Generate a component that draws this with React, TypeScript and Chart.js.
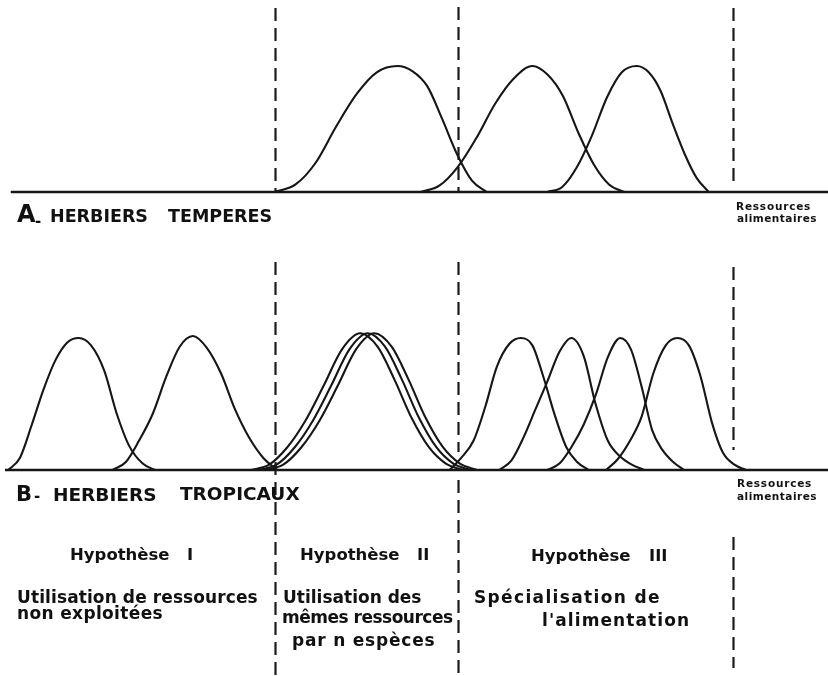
import React, { useEffect, useRef } from "react";
import { Chart, registerables } from "chart.js";

Chart.register(...registerables);

// ---- Data (resource axis 0–100, relative abundance: peak ≈ 1) ----
const resourceBoundaries = [33.2, 55.3, 88.5];

// Panel A – herbiers tempérés
const a1X = [33.2, 35.7, 38.1, 40.6, 43.1, 45.5, 48.0, 49.8, 51.6, 53.4, 55.2, 57.0, 58.8];
const a1Y = [0, 0.06, 0.23, 0.52, 0.78, 0.95, 1.0, 0.96, 0.84, 0.58, 0.3, 0.09, 0];
const a2X = [50.8, 53.05, 55.3, 57.55, 59.8, 62.05, 64.3, 66.15, 68.0, 69.85, 71.7, 73.55, 75.4];
const a2Y = [0, 0.05, 0.2, 0.43, 0.7, 0.9, 1.0, 0.93, 0.76, 0.47, 0.22, 0.06, 0];
const a3X = [66.1, 67.9, 69.7, 71.5, 73.3, 75.1, 76.9, 78.35, 79.8, 81.25, 82.7, 84.15, 85.6];
const a3Y = [0, 0.04, 0.2, 0.45, 0.75, 0.95, 1.0, 0.95, 0.8, 0.54, 0.3, 0.11, 0];

// Panel B – herbiers tropicaux
const b1X = [1.0, 2.4, 3.8, 5.25, 6.7, 8.1, 9.5, 11.0, 12.6, 14.1, 15.6, 17.2, 18.7];
const b1Y = [0, 0.09, 0.33, 0.6, 0.82, 0.95, 0.985, 0.93, 0.74, 0.42, 0.18, 0.05, 0];
const b2X = [13.6, 15.2, 16.8, 18.45, 20.1, 21.7, 23.3, 25.0, 26.7, 28.4, 30.1, 31.8, 33.5];
const b2Y = [0, 0.06, 0.22, 0.42, 0.7, 0.92, 1.0, 0.91, 0.72, 0.45, 0.24, 0.09, 0];
const b3Y = [0, 0.04, 0.17, 0.37, 0.63, 0.9, 1.02, 0.92, 0.68, 0.39, 0.17, 0.05, 0];
const b3aX = [30.3, 32.5, 34.7, 36.9, 39.1, 41.3, 43.5, 45.6, 47.6, 49.7, 51.8, 53.8, 55.9];
const b3bX = [31.2, 33.4, 35.6, 37.8, 40.0, 42.2, 44.4, 46.5, 48.5, 50.6, 52.7, 54.7, 56.8];
const b3cX = [32.0, 34.2, 36.4, 38.6, 40.8, 43.0, 45.2, 47.3, 49.3, 51.4, 53.5, 55.5, 57.6];
const b4X = [54.3, 55.7, 57.2, 58.6, 60.0, 61.5, 62.9, 64.3, 65.6, 67.0, 68.4, 69.7, 71.1];
const b4Y = [0, 0.09, 0.22, 0.47, 0.77, 0.94, 0.985, 0.93, 0.7, 0.41, 0.17, 0.06, 0];
const b5X = [60.3, 61.75, 63.2, 64.65, 66.1, 67.55, 69.0, 70.5, 71.9, 73.4, 74.9, 76.3, 77.8];
const b5Y = [0, 0.07, 0.24, 0.45, 0.66, 0.88, 0.985, 0.85, 0.5, 0.22, 0.1, 0.04, 0];
const b6X = [66.1, 67.6, 69.0, 70.5, 71.95, 73.4, 74.9, 76.2, 77.5, 78.75, 80.0, 81.3, 82.6];
const b6Y = [0, 0.05, 0.17, 0.34, 0.56, 0.84, 0.985, 0.9, 0.62, 0.3, 0.15, 0.06, 0];
const b7X = [73.2, 74.6, 76.1, 77.5, 78.9, 80.4, 81.8, 83.2, 84.6, 86.0, 87.3, 88.7, 90.1];
const b7Y = [0, 0.08, 0.22, 0.4, 0.72, 0.93, 0.985, 0.93, 0.7, 0.35, 0.13, 0.04, 0];

const axisAX = [1.3, 100];
const axisBX = [0.6, 100];
const axisY = [0, 0];

// ---- Layout (pixels) ----
const W = 828;
const H = 676;
const A_BASE = 192;
const A_UNIT = 126;
const B_BASE = 470;
const B_UNIT = 134;
const INK = "#161616";
const FONT = '"DejaVu Sans"';

// vertical extent of each dashed boundary (pixel ranges)
const dashSegments = [
  [[8, 192], [262, 676]],
  [[7, 192], [262, 452], [480, 676]],
  [[8, 186], [267, 450], [537, 668]],
];

type Label = { t: string; x: number; y: number; s: number; ls?: number };
const labels: Label[] = [
  { t: "A", x: 17, y: 222, s: 24 },
  { t: "-", x: 35, y: 226, s: 15 },
  { t: "HERBIERS", x: 50, y: 222, s: 17.5 },
  { t: "TEMPERES", x: 168, y: 222, s: 17.5 },
  { t: "Ressources", x: 736, y: 209.5, s: 10.5, ls: 0.8 },
  { t: "alimentaires", x: 737, y: 222, s: 10.5, ls: 0.5 },
  { t: "B", x: 16, y: 501, s: 21 },
  { t: "-", x: 34, y: 501, s: 15 },
  { t: "HERBIERS", x: 53, y: 501, s: 18.5 },
  { t: "TROPICAUX", x: 180, y: 500, s: 18.5 },
  { t: "Ressources", x: 737, y: 487, s: 10.5, ls: 0.8 },
  { t: "alimentaires", x: 737, y: 500, s: 10.5, ls: 0.5 },
  { t: "Hypothèse", x: 70, y: 560, s: 16.5 },
  { t: "I", x: 187, y: 560, s: 16.5 },
  { t: "Hypothèse", x: 300, y: 560, s: 16.5 },
  { t: "II", x: 417, y: 560, s: 16.5 },
  { t: "Hypothèse", x: 531, y: 561, s: 16.5 },
  { t: "III", x: 649, y: 561, s: 16.5 },
  { t: "Utilisation de ressources", x: 17, y: 603, s: 17, ls: 0.1 },
  { t: "non exploitées", x: 17, y: 619, s: 17, ls: 0.35 },
  { t: "Utilisation des", x: 283, y: 603, s: 17 },
  { t: "mêmes ressources", x: 282, y: 623, s: 17, ls: -0.5 },
  { t: "par n espèces", x: 292, y: 646, s: 17, ls: 0.8 },
  { t: "Spécialisation de", x: 474, y: 603, s: 17, ls: 1.35 },
  { t: "l'alimentation", x: 542, y: 626, s: 17, ls: 1.1 },
];

const pts = (xs: number[], ys: number[]) => xs.map((x, i) => ({ x, y: ys[i] }));

const curve = (label: string, xs: number[], ys: number[], axis: string, width = 2.1) => ({
  label,
  data: pts(xs, ys),
  yAxisID: axis,
  borderColor: INK,
  borderWidth: width,
  pointRadius: 0,
  fill: false,
  cubicInterpolationMode: "monotone" as const,
});

const decorPlugin = {
  id: "decor",
  beforeDatasetsDraw(chart: any) {
    const ctx = chart.ctx as CanvasRenderingContext2D;
    const xs = chart.scales.x;
    ctx.save();
    ctx.strokeStyle = "#1c1c1c";
    ctx.lineWidth = 2.2;
    ctx.setLineDash([13, 7]);
    resourceBoundaries.forEach((b, i) => {
      const px = Math.round(xs.getPixelForValue(b)) + 0.5;
      dashSegments[i].forEach(([y0, y1]) => {
        ctx.beginPath();
        ctx.moveTo(px, y0);
        ctx.lineTo(px, y1);
        ctx.stroke();
      });
    });
    ctx.restore();
  },
  afterDraw(chart: any) {
    const ctx = chart.ctx as CanvasRenderingContext2D;
    ctx.save();
    ctx.fillStyle = "#111";
    ctx.textBaseline = "alphabetic";
    ctx.textAlign = "left";
    labels.forEach((l) => {
      ctx.font = `bold ${l.s}px ${FONT}`;
      (ctx as any).letterSpacing = `${l.ls ?? 0}px`;
      ctx.fillText(l.t, l.x, l.y);
    });
    (ctx as any).letterSpacing = "0px";
    ctx.restore();
  },
};

export default function App() {
  const ref = useRef<HTMLCanvasElement | null>(null);

  useEffect(() => {
    if (!ref.current) return;
    const chart = new Chart(ref.current, {
      type: "line",
      data: {
        datasets: [
          curve("axeA", axisAX, axisY, "yA", 2.4),
          curve("A1", a1X, a1Y, "yA"),
          curve("A2", a2X, a2Y, "yA"),
          curve("A3", a3X, a3Y, "yA"),
          curve("axeB", axisBX, axisY, "yB", 2.4),
          curve("B1", b1X, b1Y, "yB"),
          curve("B2", b2X, b2Y, "yB"),
          curve("B3a", b3aX, b3Y, "yB"),
          curve("B3b", b3bX, b3Y, "yB"),
          curve("B3c", b3cX, b3Y, "yB"),
          curve("B4", b4X, b4Y, "yB"),
          curve("B5", b5X, b5Y, "yB"),
          curve("B6", b6X, b6Y, "yB"),
          curve("B7", b7X, b7Y, "yB"),
        ],
      },
      options: {
        animation: false,
        responsive: false,
        maintainAspectRatio: false,
        layout: { padding: 0 },
        plugins: {
          legend: { display: false },
          tooltip: { enabled: false },
        },
        scales: {
          x: { type: "linear", min: 0, max: 100, display: false },
          yA: {
            type: "linear",
            display: false,
            min: -(H - A_BASE) / A_UNIT,
            max: A_BASE / A_UNIT,
          },
          yB: {
            type: "linear",
            display: false,
            min: -(H - B_BASE) / B_UNIT,
            max: B_BASE / B_UNIT,
          },
        },
      },
      plugins: [decorPlugin],
    });
    return () => chart.destroy();
  }, []);

  return (
    <div
      style={{
        position: "fixed",
        left: 0,
        top: 0,
        width: W,
        height: H,
        background: "#ffffff",
      }}
    >
      <canvas ref={ref} width={W} height={H} style={{ display: "block", width: W, height: H }} />
    </div>
  );
}
